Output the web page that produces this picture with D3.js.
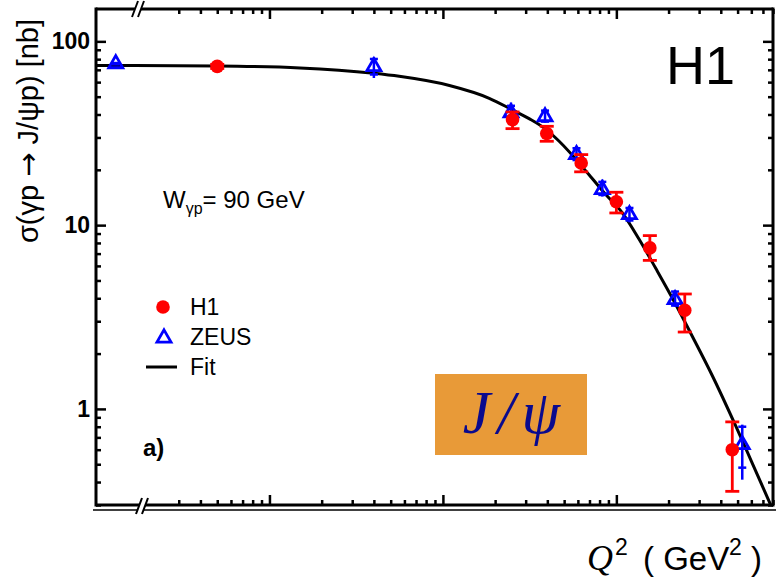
<!DOCTYPE html>
<html>
<head>
<meta charset="utf-8">
<script src="https://cdn.jsdelivr.net/npm/d3@7"></script>
<style>
body { margin: 0; background: #fff; }
svg { display: block; font-family: "Liberation Sans", Arial, sans-serif; }
</style>
</head>
<body>
<script>
// H1 points (Q2 in GeV2, sigma in nb)
var h1Q2    = [0.05, 2.52, 3.97, 6.27, 10.0, 15.6, 24.8, 46.6]
var h1Sigma = [73.1, 37.5, 31.5, 21.8, 13.4, 7.52, 3.44, 0.60]
var h1Hi    = [75.0, 41.3, 34.5, 24.2, 15.1, 8.77, 4.22, 0.85]
var h1Lo    = [71.2, 33.5, 28.6, 19.5, 11.65, 6.43, 2.62, 0.356]

// ZEUS points
var zeusQ2     = [0.013, 0.40, 2.47, 3.88, 5.89, 8.30, 11.9, 21.8, 53.2]
var zeusSigma  = [75.6, 72.9, 40.9, 38.9, 24.2, 15.6, 11.4, 3.93, 0.639]
var zeusHi     = [76.5, 81.8, 46.4, 42.5, 26.8, 17.7, 12.66, 4.42, 0.821]
var zeusLo     = [74.5, 63.2, 36.6, 36.1, 22.2, 14.3, 10.35, 3.60, 0.412]
var zeusStatHi = [76.2, 80.2, 44.6, 42.0, 26.2, 17.2, 12.4, 4.35, 0.80]
var zeusStatLo = [75.0, 66.0, 38.0, 36.6, 22.6, 14.6, 10.6, 3.65, 0.479]

// fit curve
var fitQ2    = [0.01, 0.05, 0.15, 0.4, 0.56, 1.09, 1.85, 2.5, 3.14, 3.88, 4.68, 6.96, 8.69, 10.8, 13.5, 16.9, 20.9, 27.3, 35.7, 48.7, 60, 77.5]
var fitSigma = [74.0, 73.4, 71.7, 67.0, 64.5, 57.5, 49.0, 42.5, 38.0, 33.5, 28.6, 18.8, 14.66, 11.7, 8.4, 5.8, 4.05, 2.5, 1.52, 0.81, 0.52, 0.301]

var yMajor = [1, 10, 100]
var xMajor = [0.1, 1, 10]

svg_w = 776
svg_h = 578
var svg = d3.select("body").append("svg")
        .attr("width", svg_w)
        .attr("height", svg_h)

var pl = 96, pr = 773, pt = 9, pb = 505

var xscale = d3.scaleLog().domain([0.01, 80]).range([pl, pr])
var yscale = d3.scaleLog().domain([0.3, 150]).range([pb, pt])

// minor ticks, skip the ones hidden by the axis break
var xMinor = xscale.ticks().filter(d => xMajor.indexOf(d) < 0 && xscale(d) > 160)
var yMinor = yscale.ticks().filter(d => yMajor.indexOf(d) < 0)

function styleAxis(g) {
    g.select(".domain").remove()
    g.selectAll(".tick line").attr("stroke", "black").attr("stroke-width", 2.5)
}

// x axes, bottom and top, ticks pointing inward
svg.append("g").attr("transform", "translate(0," + pb + ")")
   .call(d3.axisBottom(xscale).tickValues(xMinor).tickSize(-5).tickFormat("")).call(styleAxis)
svg.append("g").attr("transform", "translate(0," + pb + ")")
   .call(d3.axisBottom(xscale).tickValues(xMajor).tickSize(-10).tickFormat("")).call(styleAxis)
svg.append("g").attr("transform", "translate(0," + pt + ")")
   .call(d3.axisTop(xscale).tickValues(xMinor).tickSize(-5).tickFormat("")).call(styleAxis)
svg.append("g").attr("transform", "translate(0," + pt + ")")
   .call(d3.axisTop(xscale).tickValues(xMajor).tickSize(-10).tickFormat("")).call(styleAxis)

// y axes
svg.append("g").attr("transform", "translate(" + pl + ",0)")
   .call(d3.axisLeft(yscale).tickValues(yMinor).tickSize(-5).tickFormat("")).call(styleAxis)
var yl = svg.append("g").attr("transform", "translate(" + pl + ",0)")
   .call(d3.axisLeft(yscale).tickValues(yMajor).tickSize(-10).tickPadding(6).tickFormat(d3.format("d")))
   .call(styleAxis)
yl.attr("font-family", "Liberation Sans, Arial, sans-serif").attr("font-size", 23).attr("font-weight", "bold")
yl.selectAll(".tick text").attr("fill", "black")
svg.append("g").attr("transform", "translate(" + pr + ",0)")
   .call(d3.axisRight(yscale).tickValues(yMinor).tickSize(-5).tickFormat("")).call(styleAxis)
svg.append("g").attr("transform", "translate(" + pr + ",0)")
   .call(d3.axisRight(yscale).tickValues(yMajor).tickSize(-10).tickFormat("")).call(styleAxis)

// frame
var frame = svg.append("g").attr("stroke", "black").attr("stroke-width", 3)
frame.append("line").attr("x1", pl).attr("x2", pr).attr("y1", pt).attr("y2", pt)
frame.append("line").attr("x1", pl).attr("x2", pr).attr("y1", pb).attr("y2", pb)
frame.append("line").attr("x1", pl).attr("x2", pl).attr("y1", pt - 1.5).attr("y2", pb + 1.5)
frame.append("line").attr("x1", pr).attr("x2", pr).attr("y1", pt - 1.5).attr("y2", pb + 1.5)
svg.append("line").attr("x1", 93).attr("x2", svg_w).attr("y1", 510).attr("y2", 510)
   .attr("stroke", "black").attr("stroke-width", 1.5)

// axis break marks
function breakMark(cx, cy) {
    var g = svg.append("g")
    g.append("path").attr("d", "M" + (cx - 7) + "," + (cy + 8) + " L" + (cx - 1) + "," + (cy - 8) +
          " L" + (cx + 5) + "," + (cy - 8) + " L" + (cx - 1) + "," + (cy + 8) + "Z")
     .attr("fill", "white")
    g.append("line").attr("x1", cx - 7).attr("y1", cy + 8).attr("x2", cx - 1).attr("y2", cy - 8)
     .attr("stroke", "black").attr("stroke-width", 2)
    g.append("line").attr("x1", cx - 1).attr("y1", cy + 8).attr("x2", cx + 5).attr("y2", cy - 8)
     .attr("stroke", "black").attr("stroke-width", 2)
}
breakMark(143, 506)
breakMark(139, 9)

// fit curve
var fitData = fitQ2.map((q, i) => [q, fitSigma[i]])
var line = d3.line().x(d => xscale(d[0])).y(d => yscale(d[1])).curve(d3.curveMonotoneX)
svg.append("path").attr("d", line(fitData))
   .attr("fill", "none").attr("stroke", "black").attr("stroke-width", 3)

// ZEUS
var zeus = zeusQ2.map((q, i) => ({q: q, s: zeusSigma[i], hi: zeusHi[i], lo: zeusLo[i], shi: zeusStatHi[i], slo: zeusStatLo[i]}))
var zg = svg.append("g").attr("stroke", "blue")
zg.selectAll("line.bar").data(zeus).enter().append("line")
  .attr("x1", d => xscale(d.q)).attr("x2", d => xscale(d.q))
  .attr("y1", d => yscale(d.hi)).attr("y2", d => yscale(d.lo))
  .attr("stroke-width", 2.5)
zg.selectAll("line.shi").data(zeus).enter().append("line")
  .attr("x1", d => xscale(d.q) - 4).attr("x2", d => xscale(d.q) + 4)
  .attr("y1", d => yscale(d.shi)).attr("y2", d => yscale(d.shi))
  .attr("stroke-width", 2.5)
zg.selectAll("line.slo").data(zeus).enter().append("line")
  .attr("x1", d => xscale(d.q) - 4).attr("x2", d => xscale(d.q) + 4)
  .attr("y1", d => yscale(d.slo)).attr("y2", d => yscale(d.slo))
  .attr("stroke-width", 2.5)
var tri = d3.symbol(d3.symbolTriangle, 85)
zg.selectAll("path").data(zeus).enter().append("path")
  .attr("d", tri)
  .attr("transform", d => "translate(" + xscale(d.q) + "," + yscale(d.s) + ")")
  .attr("fill", "none").attr("stroke-width", 2.8)

// H1
var h1 = h1Q2.map((q, i) => ({q: q, s: h1Sigma[i], hi: h1Hi[i], lo: h1Lo[i]}))
var hg = svg.append("g").attr("stroke", "#ff0000").attr("stroke-width", 2.8)
hg.selectAll("line.bar").data(h1).enter().append("line")
  .attr("x1", d => xscale(d.q)).attr("x2", d => xscale(d.q))
  .attr("y1", d => yscale(d.hi)).attr("y2", d => yscale(d.lo))
hg.selectAll("line.capHi").data(h1).enter().append("line")
  .attr("x1", d => xscale(d.q) - 7).attr("x2", d => xscale(d.q) + 7)
  .attr("y1", d => yscale(d.hi)).attr("y2", d => yscale(d.hi))
hg.selectAll("line.capLo").data(h1).enter().append("line")
  .attr("x1", d => xscale(d.q) - 7).attr("x2", d => xscale(d.q) + 7)
  .attr("y1", d => yscale(d.lo)).attr("y2", d => yscale(d.lo))
svg.selectAll("circle.h1").data(h1).enter().append("circle")
  .attr("cx", d => xscale(d.q)).attr("cy", d => yscale(d.s))
  .attr("r", 6.8).attr("fill", "#ff0000")

// legend
svg.append("circle").attr("cx", 163).attr("cy", 307).attr("r", 6.8).attr("fill", "#ff0000")
svg.append("path").attr("d", tri).attr("transform", "translate(164,338)")
   .attr("fill", "none").attr("stroke", "blue").attr("stroke-width", 2.8)
svg.append("line").attr("x1", 146).attr("x2", 177).attr("y1", 367).attr("y2", 367)
   .attr("stroke", "black").attr("stroke-width", 3)
var legTxt = ["H1", "ZEUS", "Fit"]
svg.selectAll("text.leg").data(legTxt).enter().append("text")
   .attr("x", 190).attr("y", (d, i) => 315 + i * 30)
   .attr("font-size", 23).text(d => d)

// annotations
var wt = svg.append("text").attr("x", 163).attr("y", 208).attr("font-size", 24)
wt.append("tspan").text("W")
wt.append("tspan").attr("font-size", 16).attr("dy", 6).text("γp")
wt.append("tspan").attr("dy", -6).text("= 90 GeV")

svg.append("text").attr("x", 143).attr("y", 456).attr("font-size", 24).attr("font-weight", "bold").text("a)")

svg.append("text").attr("x", 735).attr("y", 84).attr("text-anchor", "end")
   .attr("font-size", 54).text("H1")

svg.append("rect").attr("x", 435).attr("y", 374).attr("width", 152).attr("height", 81).attr("fill", "#e89a38")
svg.append("text").attr("x", 515).attr("y", 433).attr("text-anchor", "middle")
   .attr("font-family", "Liberation Serif, serif").attr("font-style", "italic")
   .attr("font-size", 62).attr("letter-spacing", 7).attr("fill", "#0a0a8e").text("J/ψ")

// axis titles
var yt = svg.append("text").attr("transform", "translate(38,131) rotate(-90)")
   .attr("text-anchor", "middle").attr("font-size", 29)
yt.append("tspan").text("σ(γp ")
yt.append("tspan").attr("font-family", "DejaVu Sans").text("→")
yt.append("tspan").text(" J/ψp) [nb]")

var xt = svg.append("g").attr("font-size", 33)
xt.append("text").attr("x", 587).attr("y", 570).attr("font-family", "Liberation Serif, serif")
  .attr("font-style", "italic").attr("font-size", 36).text("Q")
xt.append("text").attr("x", 615).attr("y", 555).attr("font-size", 23).text("2")
xt.append("text").attr("x", 643).attr("y", 570).text("( GeV")
xt.append("text").attr("x", 729).attr("y", 555).attr("font-size", 23).text("2")
xt.append("text").attr("x", 751).attr("y", 570).text(")")
</script>
</body>
</html>
